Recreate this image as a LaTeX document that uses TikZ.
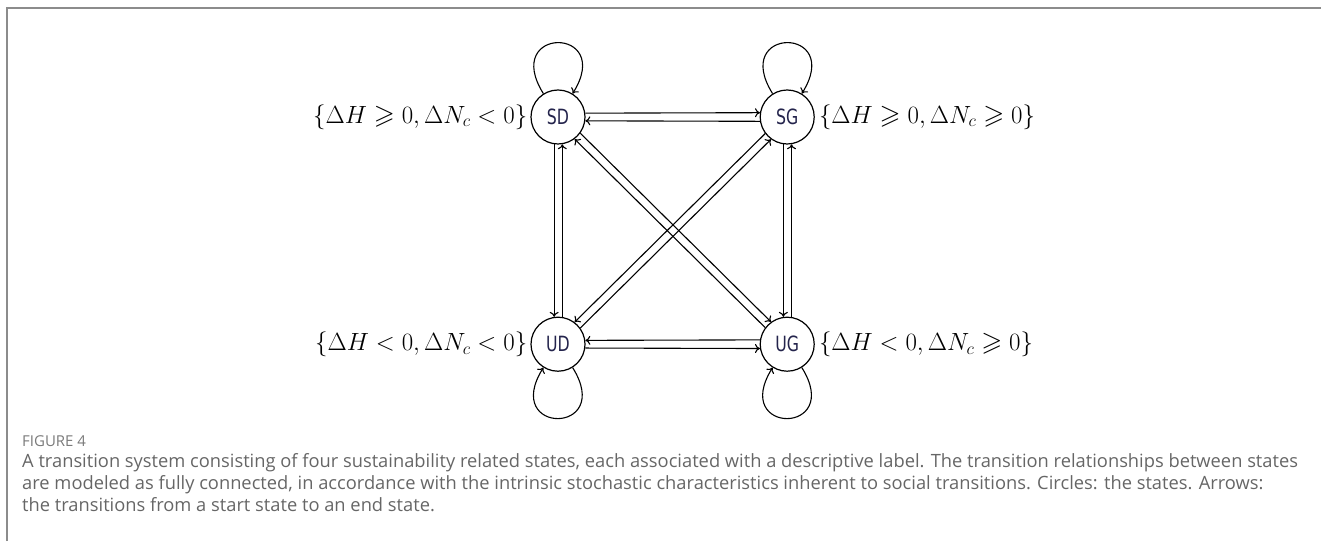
\documentclass[tikz,border=0pt]{standalone}
\usepackage{fontspec}
\usepackage{amssymb}
\usepackage{tikz}
\usetikzlibrary{arrows.meta, positioning}
\newfontfamily\statefont[FakeStretch=0.75]{DejaVu Sans}
\newfontfamily\capfont{Open Sans}
\definecolor{statetext} {HTML}{24244C}
\definecolor{capgray}   {HTML}{666666}
\definecolor{figgray}   {HTML}{7A7A7A}
\definecolor{framegray} {HTML}{8C8C8C}

\begin{document}
\begin{tikzpicture}[
    x=1pt, y=1pt,
    node distance=172pt and 174pt,
    state/.style={draw, circle, line width=1.2pt, minimum size=54pt, inner sep=0pt,
                  font=\statefont\fontsize{21}{21}\selectfont, text=statetext},
    cond/.style={inner sep=0pt, font=\fontsize{27}{30}\selectfont},
    arr/.style={-{To[length=5pt, width=9pt]}, line width=1.1pt},
  ]
    \useasboundingbox (0,0) rectangle (1321,541);
    \draw[framegray, line width=2pt] (7,0) -- (7,533) -- (1321,533);

    \node[state] (SD) at (558,424) {SD};
    \node[state, right=of SD] (SG) {SG};
    \node[state, below=of SD] (UD) {UD};
    \node[state, right=of UD] (UG) {UG};

    \node[cond, left=3pt of SD] (SDcond)
      {$\{\Delta H \geqslant 0, \Delta N_c < 0\}$};
    \node[cond, right=4pt of SG] (SGcond)
      {$\{\Delta H \geqslant 0, \Delta N_c \geqslant 0\}$};
    \node[cond, left=3pt of UD] (UDcond)
      {$\{\Delta H < 0, \Delta N_c < 0\}$};
    \node[cond, right=4pt of UG] (UGcond)
      {$\{\Delta H < 0, \Delta N_c \geqslant 0\}$};

    \draw[arr] (SD.8.5)    -- (SG.171.5);
    \draw[arr] (SG.-171.5) -- (SD.-8.5);
    \draw[arr] (UG.171.5)  -- (UD.8.5);
    \draw[arr] (UD.-8.5)   -- (UG.-171.5);
    \draw[arr] (SD.-98.5)  -- (UD.98.5);
    \draw[arr] (UD.81.5)   -- (SD.-81.5);
    \draw[arr] (SG.-98.5)  -- (UG.98.5);
    \draw[arr] (UG.81.5)   -- (SG.-81.5);
    \draw[arr] (SD.-36.5)  -- (UG.126.5);
    \draw[arr] (UG.143.5)  -- (SD.-53.5);
    \draw[arr] (SG.-143.5) -- (UD.53.5);
    \draw[arr] (UD.36.5)   -- (SG.-126.5);

    \draw[arr] (SD) to[out=122, in=58, distance=80pt] (SD);
    \draw[arr] (SG) to[out=122, in=58, distance=80pt] (SG);
    \draw[arr] (UD) to[out=-58, in=-122, distance=80pt] (UD);
    \draw[arr] (UG) to[out=-58, in=-122, distance=80pt] (UG);

    \node[anchor=west, inner sep=0pt, text=figgray,
          font=\capfont\fontsize{15}{15}\selectfont] (figlab) at (22,100) {FIGURE 4};
    \node[below=7pt of figlab.south west, anchor=north west, inner sep=0pt,
          align=left, text=capgray, font=\capfont\fontsize{18.3}{22}\selectfont] (caption)
      {A transition system consisting of four sustainability related states, each associated with a descriptive label. The transition relationships between states\\
       are modeled as fully connected, in accordance with the intrinsic stochastic characteristics inherent to social transitions. Circles: the states. Arrows:\\
       the transitions from a start state to an end state.};
  \end{tikzpicture}
\end{document}
